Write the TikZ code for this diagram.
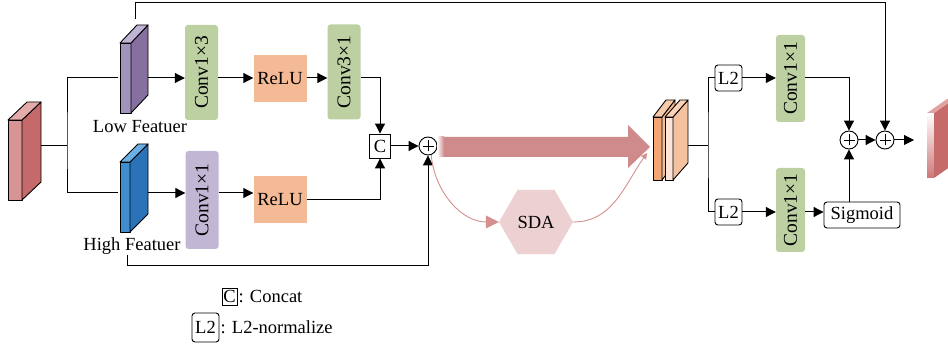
\documentclass[tikz,border=0pt]{standalone}
\usepackage{fontspec}
\setmainfont{Liberation Serif}
\usetikzlibrary{arrows.meta,shapes.geometric}

\definecolor{inlight}{HTML}{D89494}
\definecolor{indark}{HTML}{C46A6A}
\definecolor{intop}{HTML}{E4ABAB}
\definecolor{lowfront}{HTML}{A194BC}
\definecolor{lowside}{HTML}{8570A0}
\definecolor{lowtop}{HTML}{C0B3D5}
\definecolor{highfront}{HTML}{408ED0}
\definecolor{highside}{HTML}{2B73B9}
\definecolor{hightop}{HTML}{6AB0E6}
\definecolor{convgreen}{HTML}{BCD0A2}
\definecolor{convpurple}{HTML}{C1B6D4}
\definecolor{reluorange}{HTML}{F4B995}
\definecolor{sdapink}{HTML}{ECD0D2}
\definecolor{bigred}{HTML}{CF8A8B}
\definecolor{curvepink}{HTML}{D58F8F}
\definecolor{slabA}{HTML}{F3A674}
\definecolor{slabAside}{HTML}{F6BE98}
\definecolor{slabAtop}{HTML}{F8C9A8}
\definecolor{slabB}{HTML}{FCE4D6}
\definecolor{slabBside}{HTML}{F5C29F}
\definecolor{slabBtop}{HTML}{FAD3B8}
\definecolor{outred}{HTML}{CD7878}
\definecolor{outside}{HTML}{C66A6A}
\definecolor{outtop}{HTML}{E3A2A2}

% x, y, width, height, depth x, depth y, front, side, top
\newcommand\cuboid[9]{%
  \draw[line width=0.9pt, line join=round, #7] (#1,#2) rectangle (#1+#3,#2+#4);
  \draw[line width=0.9pt, line join=round, #8] (#1+#3,#2) -- (#1+#3+#5,#2+#6)
    -- (#1+#3+#5,#2+#4+#6) -- (#1+#3,#2+#4) -- cycle;
  \draw[line width=0.9pt, line join=round, #9] (#1,#2) -- (#1+#3,#2)
    -- (#1+#3+#5,#2+#6) -- (#1+#5,#2+#6) -- cycle;
}

\begin{document}
\begin{tikzpicture}[x=1pt, y=-1pt,
  every node/.style={font=\fontsize{18.5}{21}\selectfont},
  conv/.style={fill=convgreen, rounded corners=3pt, minimum width=33pt,
               minimum height=95pt, inner sep=0pt,
               font=\fontsize{19.5}{21}\selectfont},
  relu/.style={fill=reluorange, minimum width=53pt, minimum height=47pt, inner sep=0pt},
  l2box/.style={draw, line width=0.9pt, rounded corners=3pt, minimum width=27pt,
                minimum height=26pt, inner sep=2pt},
  catbox/.style={draw, line width=0.9pt, minimum width=21pt, minimum height=24pt, inner sep=0pt},
  plusop/.style={circle, draw, line width=0.9pt, minimum size=18pt, inner sep=0pt,
                 path picture={
                   \draw[line width=0.6pt] ([xshift=-5.5pt]path picture bounding box.center)
                     -- ([xshift=5.5pt]path picture bounding box.center);
                   \draw[line width=0.6pt] ([yshift=-5.5pt]path picture bounding box.center)
                     -- ([yshift=5.5pt]path picture bounding box.center);}},
  arrow/.style={-{Triangle[length=10pt,width=10pt]}, line width=1pt},
  link/.style={line width=1pt},
  flow/.style={color=curvepink, line width=0.9pt, -{Triangle[length=13pt,width=13pt]}},
  flowback/.style={color=curvepink, line width=0.9pt, -{Triangle[length=6pt,width=6pt]}}
]
  \useasboundingbox (0,0) rectangle (948,347);

  % feature blocks
  \cuboid{8}{120}{14}{80}{19}{-18}{fill=inlight}{fill=indark}{fill=intop}
  \cuboid{120}{43}{11}{70}{17}{-18}{fill=lowfront}{fill=lowside}{fill=lowtop}
  \cuboid{120}{162}{10}{70}{18}{-18}{fill=highfront}{fill=highside}{fill=hightop}
  \cuboid{653}{117}{9}{63}{13}{-17}{fill=slabA}{fill=slabAside}{fill=slabAtop}
  \cuboid{665}{117}{8}{63}{15}{-17}{fill=slabB}{fill=slabBside}{fill=slabBtop}
  \cuboid{927}{113}{7}{65}{20}{-14}{draw=none, top color=white, bottom color=outred}{draw=none, fill=outside}{draw=none, fill=outtop}

  \coordinate (in-e) at (41,146);
  \coordinate (split) at (67,146);
  \coordinate (low-w) at (118,78);
  \coordinate (low-e) at (148,78);
  \coordinate (low-n) at (135,19);
  \coordinate (high-w) at (118,193);
  \coordinate (high-e) at (148,193);
  \coordinate (tap) at (127,255);
  \coordinate (cat-e) at (688,146);
  \coordinate (fork) at (708,146);
  \coordinate (tipin) at (647,153);
  \coordinate (out) at (914,140);

  \node (lowlab) at (140,127) {Low Featuer};
  \node (highlab) at (132,246) {High Featuer};

  % left branch
  \node[conv] (conv13) at (201.5,72.5) {\rotatebox{90}{Conv1×3}};
  \node[relu] (relu1) at (280,78.5) {ReLU};
  \node[conv] (conv31) at (344,72) {\rotatebox{90}{Conv3×1}};
  \node[conv, fill=convpurple, minimum height=98pt] (conv11) at (202,200) {\rotatebox{90}{Conv1×1}};
  \node[relu] (relu2) at (280,199.5) {ReLU};
  \node[catbox] (cat) at (380,146) {C};
  \node[plusop] (sumA) at (428,146) {};
  \node[regular polygon, regular polygon sides=6, fill=sdapink, minimum size=74pt,
        inner sep=0pt] (sda) at (536,222) {SDA};

  % right branch
  \node[l2box] (l2top) at (728.5,78) {L2};
  \node[l2box] (l2bot) at (728.5,212) {L2};
  \node[conv, minimum width=29pt, minimum height=87pt] (convA) at (790.5,78.5) {\rotatebox{90}{Conv1×1}};
  \node[conv, minimum width=29pt, minimum height=84pt] (convB) at (790.5,210) {\rotatebox{90}{Conv1×1}};
  \node[l2box, minimum width=76pt] (sig) at (862,215) {Sigmoid};
  \node[plusop] (sum1) at (849,140) {};
  \node[plusop] (sum2) at (885,140) {};

  % legend
  \node[catbox, minimum width=15pt, minimum height=17pt] (keycat) at (229.5,296.5) {C};
  \node[anchor=west, inner sep=1pt] (keycattext) at (keycat.east) {: Concat};
  \node[l2box, minimum height=29pt] (keyl2) at (205.5,327.5) {L2};
  \node[anchor=west, inner sep=1pt] (keyl2text) at (keyl2.east) {: L2-normalize};

  % connectors
  \draw[link] (in-e) -- (split);
  \draw[link] (low-w) -| (split) |- (high-w);
  \draw[arrow] (low-e) -- (conv13.west |- low-e);
  \draw[arrow] (conv13.east |- low-e) -- (relu1.west |- low-e);
  \draw[arrow] (relu1.east |- low-e) -- (conv31.west |- low-e);
  \draw[arrow] (conv31.east |- low-e) -| (cat.north);
  \draw[arrow] (high-e) -- (conv11.west |- high-e);
  \draw[arrow] (conv11.east |- high-e) -- (relu2.west |- high-e);
  \draw[arrow] (relu2.east) -| (cat.south);
  \draw[arrow] (cat) -- (sumA);
  \draw[arrow] (tap) -- ++(0,11) -| (sumA.south);
  \draw[arrow] (low-n) -- ++(0,-16) -| (sum2.north);

  % main flow
  \fill[bigred] (437,137) -- (628,137) -- (628,125) -- (650,147) -- (628,168)
    -- (628,157) -- (437,157) -- cycle;
  \shade[left color=white, right color=bigred] (437,137) rectangle (444,157);
  \draw[flow] (sumA.-70) to[out=-85, in=180] (sda.west);
  \draw[flowback] (sda.east) to[out=0, in=-125] (tipin);

  \draw[link] (cat-e) -- (fork);
  \draw[link] (l2top.west) -| (fork) |- (l2bot.west);
  \draw[arrow] (l2top.east) -- (convA.west |- l2top.east);
  \draw[arrow] (l2bot.east) -- (convB.west |- l2bot.east);
  \draw[arrow] (convB.east |- l2bot.east) -- (sig.west |- l2bot.east);
  \draw[arrow] (convA.east |- l2top.east) -| (sum1.north);
  \draw[arrow] (sig.north -| sum1) -- (sum1.south);
  \draw[arrow] (sum1) -- (sum2);
  \draw[arrow] (sum2) -- (out);
\end{tikzpicture}
\end{document}
